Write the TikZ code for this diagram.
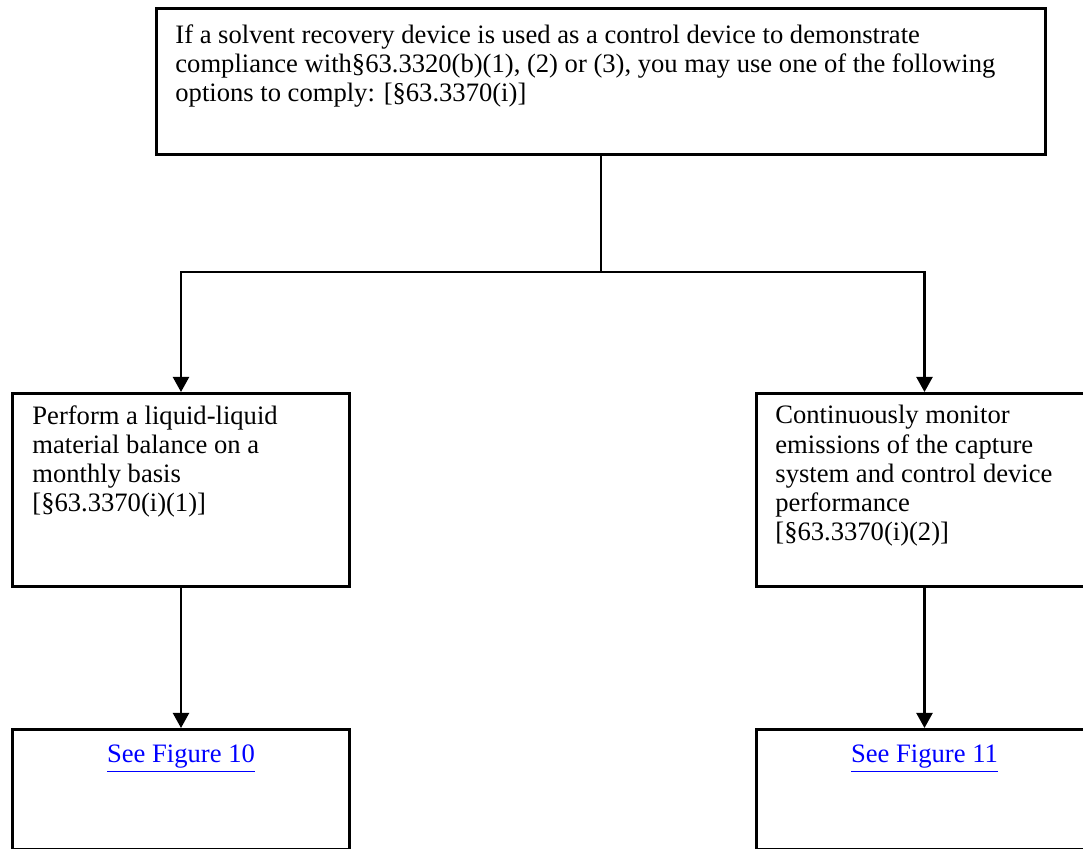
\documentclass[tikz,border=0pt]{standalone}
\usepackage{fontspec}
\setmainfont{Liberation Serif}
\usetikzlibrary{arrows.meta}
\definecolor{linkblue}{RGB}{0,0,255}
\begin{document}
\begin{tikzpicture}[x=0.5pt,y=-0.5pt,
  box/.style={draw,line width=1.5pt,rectangle,inner sep=0pt,anchor=north west},
  txt/.style={anchor=north west,inner sep=0pt,align=left,font=\fontsize{13.3}{14.6}\selectfont},
  link/.style={anchor=base,inner sep=0pt,text=linkblue,font=\fontsize{13.3}{14.6}\selectfont},
  conn/.style={line width=1.1pt},
  arr/.style={conn,-{Triangle[length=7.5pt,width=8pt]}}]
\useasboundingbox (0,0) rectangle (1083,849);
% boxes
\node[box,minimum width=444.5pt,minimum height=73pt] (top) at (155,7) {};
\node[box,minimum width=168.5pt,minimum height=96.5pt] (left) at (11,392) {};
\node[box,minimum width=168pt,minimum height=96.5pt] (right) at (755,392) {};
\node[box,minimum width=168.5pt,minimum height=60pt] (bl) at (11,728) {};
\node[box,minimum width=168pt,minimum height=60pt] (br) at (755,728) {};
% texts
\node[txt] (toptxt) at (175,24) {If a solvent recovery device is used as a control device to demonstrate\\
compliance with§63.3320(b)(1), (2) or (3), you may use one of the following\\
options to comply: [§63.3370(i)]};
\node[txt] (lefttxt) at (32,405) {Perform a liquid-liquid\\material balance on a\\monthly basis\\{}[§63.3370(i)(1)]};
\node[txt] (righttxt) at (775,405) {Continuously monitor\\emissions of the capture\\system and control device\\performance\\{}[§63.3370(i)(2)]};
\node[link] (bltxt) at (bl.north |- 0,763) {\underline{See Figure 10}};
\node[link] (brtxt) at (br.north |- 0,763) {\underline{See Figure 11}};
% connectors
\coordinate (j) at (top.south |- 0,272);
\draw[conn] (top.south) -- (j);
\draw[arr] (j) -| (left.north);
\draw[arr] (j) -| (right.north);
\draw[arr] (left.south) -- (bl.north);
\draw[arr] (right.south) -- (br.north);
\end{tikzpicture}
\end{document}
